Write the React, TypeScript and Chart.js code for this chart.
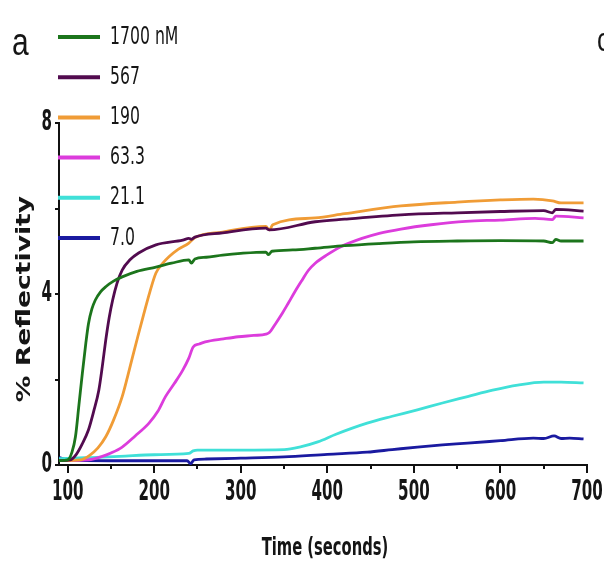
import { useEffect, useRef } from 'react';
import { Chart, registerables } from 'chart.js';

Chart.register(...registerables);

// ---- data ----
const seriesLabels = ['1700 nM', '567', '190', '63.3', '21.1', '7.0'];
const seriesColors = ['#1c751c', '#520b4f', '#f09c36', '#dc3cdc', '#40e0d8', '#1a1aa0'];

const t1700 = [90, 100, 105, 109, 113, 117, 121, 124, 128, 132, 138, 144, 153, 163, 180, 202, 220, 240, 243, 247, 260, 279, 300, 329, 332, 336, 360, 386, 420, 460, 500, 550, 600, 650, 660, 664, 670, 696];
const v1700 = [0.1, 0.12, 0.3, 0.66, 1.4, 2.15, 2.85, 3.3, 3.65, 3.86, 4.05, 4.17, 4.3, 4.4, 4.53, 4.63, 4.72, 4.8, 4.72, 4.82, 4.86, 4.91, 4.95, 4.98, 4.92, 5.0, 5.03, 5.07, 5.13, 5.18, 5.22, 5.24, 5.25, 5.24, 5.2, 5.28, 5.24, 5.24];

const t567 = [90, 103, 110, 117, 124, 130, 136, 140, 144, 148, 152, 157, 163, 172, 182, 202, 233, 240, 243, 247, 279, 329, 333, 386, 420, 485, 550, 600, 650, 660, 664, 696];
const v567 = [0.1, 0.12, 0.25, 0.5, 0.82, 1.25, 1.75, 2.3, 2.92, 3.45, 3.86, 4.25, 4.56, 4.8, 4.96, 5.15, 5.26, 5.3, 5.28, 5.33, 5.43, 5.54, 5.5, 5.69, 5.75, 5.85, 5.9, 5.93, 5.95, 5.9, 5.98, 5.94];

const t190 = [90, 115, 125, 135, 144, 153, 163, 169, 175, 181, 187, 195, 202, 210, 217, 228, 240, 243, 247, 279, 329, 333, 337, 386, 420, 485, 550, 600, 638, 660, 670, 696];
const v190 = [0.1, 0.12, 0.22, 0.4, 0.66, 1.05, 1.6, 2.05, 2.53, 3.0, 3.46, 4.05, 4.49, 4.72, 4.87, 5.05, 5.19, 5.25, 5.32, 5.45, 5.58, 5.5, 5.62, 5.78, 5.88, 6.06, 6.15, 6.2, 6.22, 6.18, 6.13, 6.13];

const t63 = [90, 124, 140, 150, 163, 178, 194, 204, 213, 223, 233, 240, 245, 252, 259, 280, 297, 315, 329, 333, 340, 348, 355, 363, 371, 378, 386, 400, 415, 440, 460, 485, 520, 560, 600, 640, 660, 664, 696];
const v63 = [0.1, 0.12, 0.2, 0.28, 0.42, 0.68, 0.98, 1.25, 1.6, 1.9, 2.22, 2.5, 2.76, 2.83, 2.88, 2.95, 3.0, 3.03, 3.06, 3.1, 3.3, 3.55, 3.79, 4.07, 4.33, 4.55, 4.72, 4.92, 5.1, 5.3, 5.42, 5.52, 5.62, 5.7, 5.73, 5.77, 5.74, 5.82, 5.78];

const t21 = [90, 120, 160, 200, 240, 245, 250, 300, 350, 370, 389, 410, 446, 475, 504, 533, 562, 591, 620, 650, 670, 696];
const v21 = [0.15, 0.17, 0.2, 0.24, 0.27, 0.33, 0.35, 0.35, 0.36, 0.43, 0.54, 0.72, 0.98, 1.14, 1.29, 1.45, 1.6, 1.75, 1.87, 1.94, 1.94, 1.92];

const t7 = [90, 100, 150, 200, 238, 242, 246, 260, 300, 350, 400, 446, 475, 504, 533, 562, 600, 638, 650, 662, 670, 680, 696];
const v7 = [0.18, 0.12, 0.1, 0.1, 0.1, 0.03, 0.12, 0.14, 0.16, 0.19, 0.25, 0.3, 0.36, 0.42, 0.47, 0.51, 0.57, 0.63, 0.62, 0.68, 0.62, 0.63, 0.61];

const seriesTimes = [t1700, t567, t190, t63, t21, t7];
const seriesValues = [v1700, v567, v190, v63, v21, v7];

const xMajorTicks = [100, 200, 300, 400, 500, 600, 700];
const xMinorTicks = [150, 250, 350, 450, 550, 650];
const yTicks = [0, 2, 4, 6, 8];
const yLabelTicks = [0, 4, 8];

const xTitle = 'Time (seconds)';
const yTitle = '% Reflectivity';
const panelLabel = 'a';
const nextPanelLabel = 'c';

const NARROW = "'Liberation Sans Narrow', 'Arial Narrow', 'DejaVu Sans Condensed', sans-serif";

function drawText(
  ctx: CanvasRenderingContext2D,
  s: string,
  x: number,
  y: number,
  font: string,
  align: CanvasTextAlign,
  baseline: CanvasTextBaseline,
  sx: number,
  sy: number,
  rot = 0,
  color = '#151515'
) {
  ctx.save();
  ctx.translate(x, y);
  if (rot) ctx.rotate(rot);
  ctx.scale(sx, sy);
  ctx.font = font;
  ctx.fillStyle = color;
  ctx.textAlign = align;
  ctx.textBaseline = baseline;
  ctx.fillText(s, 0, 0);
  ctx.restore();
}

const decorPlugin = {
  id: 'decor',
  afterDraw(chart: any) {
    const ctx: CanvasRenderingContext2D = chart.ctx;
    const xs = chart.scales.x;
    const ys = chart.scales.y;
    const area = chart.chartArea;

    // minor x ticks
    ctx.save();
    ctx.strokeStyle = '#111';
    ctx.lineWidth = 2;
    for (const v of xMinorTicks) {
      const px = Math.round(xs.getPixelForValue(v));
      ctx.beginPath();
      ctx.moveTo(px, area.bottom);
      ctx.lineTo(px, area.bottom + 4);
      ctx.stroke();
    }
    ctx.restore();

    // tick labels
    const tickFont = `bold 21px ${NARROW}`;
    for (const v of xMajorTicks) {
      drawText(ctx, String(v), xs.getPixelForValue(v), area.bottom + 28, tickFont, 'center', 'middle', 0.8, 1.33);
    }
    for (const v of yLabelTicks) {
      drawText(ctx, String(v), area.left - 7, ys.getPixelForValue(v), tickFont, 'right', 'middle', 0.8, 1.33);
    }

    // axis titles
    drawText(ctx, xTitle, (area.left + area.right) / 2 + 2, 555, `bold 21px ${NARROW}`, 'center', 'alphabetic', 0.78, 1.2);
    drawText(ctx, yTitle, 30, 299, "bold 19px 'DejaVu Sans', sans-serif", 'center', 'alphabetic', 1.4, 1, -Math.PI / 2);

    // panel labels
    drawText(ctx, panelLabel, 12, 55, "30px 'Liberation Sans', Arial, sans-serif", 'left', 'alphabetic', 1, 1.3);
    drawText(ctx, nextPanelLabel, 597, 51, "26px 'Liberation Sans', Arial, sans-serif", 'left', 'alphabetic', 1, 1.3);

    // legend
    chart.data.datasets.forEach((ds: any, i: number) => {
      const y = 37 + i * 40.2;
      ctx.save();
      ctx.strokeStyle = ds.borderColor;
      ctx.lineWidth = 4;
      ctx.beginPath();
      ctx.moveTo(58, y);
      ctx.lineTo(100, y);
      ctx.stroke();
      ctx.restore();
      drawText(ctx, ds.label, 110, y, `21px ${NARROW}`, 'left', 'middle', 0.83, 1.2);
    });
  },
};

export default function App() {
  const ref = useRef<HTMLCanvasElement | null>(null);

  useEffect(() => {
    if (!ref.current) return;
    const datasets = seriesLabels.map((label, i) => ({
      label,
      data: seriesTimes[i].map((t, j) => ({ x: t, y: seriesValues[i][j] })),
      borderColor: seriesColors[i],
      backgroundColor: seriesColors[i],
      borderWidth: 2.8,
      pointRadius: 0,
      cubicInterpolationMode: 'monotone' as const,
      fill: false,
    }));

    const chart = new Chart(ref.current, {
      type: 'line',
      data: { datasets },
      plugins: [decorPlugin],
      options: {
        animation: false,
        responsive: false,
        devicePixelRatio: 1,
        layout: { padding: { top: 123, right: 17, left: 0, bottom: 0 } },
        plugins: {
          legend: { display: false },
          tooltip: { enabled: false },
          title: { display: false },
        },
        scales: {
          x: {
            type: 'linear',
            min: 90,
            max: 700,
            afterBuildTicks: (s: any) => {
              s.ticks = xMajorTicks.map((v) => ({ value: v }));
            },
            afterFit: (s: any) => {
              s.height = 100;
            },
            ticks: { display: false },
            grid: {
              display: true,
              drawOnChartArea: false,
              drawTicks: true,
              tickLength: 8,
              color: '#111',
              lineWidth: 2,
            },
            border: { display: true, color: '#111', width: 2 },
          },
          y: {
            type: 'linear',
            min: 0,
            max: 8,
            afterBuildTicks: (s: any) => {
              s.ticks = yTicks.map((v) => ({ value: v }));
            },
            afterFit: (s: any) => {
              s.width = 59;
            },
            ticks: { display: false },
            grid: {
              display: true,
              drawOnChartArea: false,
              drawTicks: true,
              tickLength: 4,
              color: '#111',
              lineWidth: 2,
            },
            border: { display: true, color: '#111', width: 2 },
          },
        },
      },
    });
    return () => chart.destroy();
  }, []);

  return (
    <div style={{ position: 'absolute', left: 0, top: 0, width: 604, height: 565, background: '#fff' }}>
      <canvas ref={ref} width={604} height={565} style={{ display: 'block', width: 604, height: 565 }} />
    </div>
  );
}
